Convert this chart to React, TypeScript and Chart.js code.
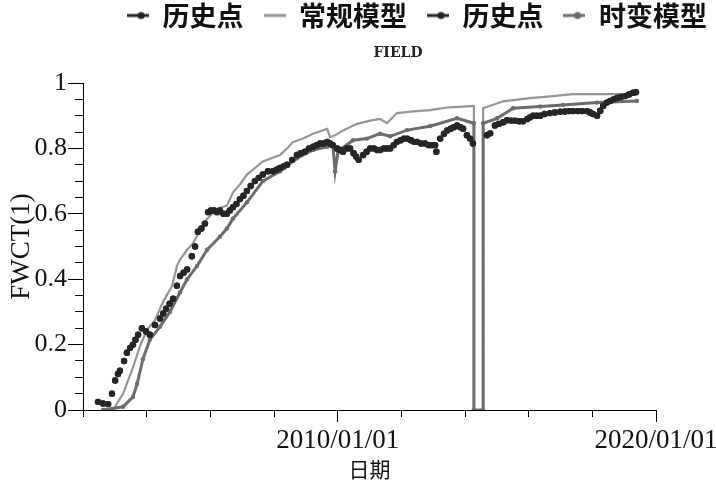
import React, { useEffect, useRef } from 'react';
import { Chart, registerables } from 'chart.js';

Chart.register(...registerables);

// ---------- data (dates as decimal years) ----------
const seriesNames = ['历史点', '常规模型', '历史点', '时变模型'];
const chartTitle = 'FIELD';
const xAxisTitle = '日期';
const yAxisTitle = 'FWCT(1)';
const xMajorLabels: Record<number, string> = { 2010: '2010/01/01', 2020: '2020/01/01' };
const yLabelValues = [0, 0.2, 0.4, 0.6, 0.8, 1];

const histYears = [
  2002.47, 2002.63, 2002.79, 2002.91, 2003.01, 2003.10, 2003.16, 2003.29, 2003.38, 2003.48,
  2003.57, 2003.65, 2003.73, 2003.85, 2003.98, 2004.10, 2004.26, 2004.42, 2004.52, 2004.61,
  2004.72, 2004.83, 2004.95, 2005.05, 2005.16, 2005.27, 2005.42, 2005.52, 2005.61, 2005.72,
  2005.83, 2005.93, 2006.02, 2006.12, 2006.21, 2006.30, 2006.41, 2006.52, 2006.61, 2006.71,
  2006.82, 2006.93, 2007.04, 2007.15, 2007.27, 2007.40, 2007.52, 2007.65, 2007.81, 2007.97,
  2008.08, 2008.19, 2008.30, 2008.41, 2008.57, 2008.72, 2008.84, 2008.97, 2009.10, 2009.23,
  2009.34, 2009.45, 2009.56, 2009.67, 2009.76, 2009.85, 2009.98, 2010.08, 2010.17, 2010.28,
  2010.39, 2010.50, 2010.58, 2010.66, 2010.80, 2010.91, 2011.02, 2011.14, 2011.24, 2011.33,
  2011.45, 2011.55, 2011.65, 2011.76, 2011.86, 2011.98, 2012.08, 2012.18, 2012.30, 2012.40,
  2012.49, 2012.62, 2012.74, 2012.86, 2012.96, 2013.06, 2013.10, 2013.22, 2013.34, 2013.44,
  2013.55, 2013.65, 2013.75, 2013.85, 2013.94, 2014.06, 2014.16, 2014.25, 2014.69, 2014.79,
  2014.94, 2015.06, 2015.20, 2015.32, 2015.45, 2015.57, 2015.70, 2015.82, 2015.96, 2016.04,
  2016.14, 2016.25, 2016.36, 2016.50, 2016.67, 2016.82, 2016.99, 2017.14, 2017.27, 2017.39,
  2017.54, 2017.68, 2017.83, 2017.93, 2018.02, 2018.15, 2018.25, 2018.34, 2018.45, 2018.56,
  2018.67, 2018.78, 2018.90, 2019.03, 2019.15, 2019.28, 2019.37,
];
const histValues = [
  0.025, 0.02, 0.018, 0.05, 0.09, 0.11, 0.12, 0.15, 0.175, 0.19,
  0.20, 0.215, 0.23, 0.25, 0.24, 0.23, 0.26, 0.28, 0.295, 0.31,
  0.325, 0.34, 0.38, 0.41, 0.42, 0.43, 0.47, 0.50, 0.545, 0.555,
  0.57, 0.605, 0.61, 0.61, 0.605, 0.61, 0.60, 0.60, 0.61, 0.62,
  0.63, 0.645, 0.655, 0.67, 0.685, 0.70, 0.71, 0.72, 0.73, 0.73,
  0.735, 0.74, 0.745, 0.75, 0.765, 0.78, 0.785, 0.79, 0.80, 0.805,
  0.81, 0.815, 0.815, 0.82, 0.815, 0.81, 0.80, 0.795, 0.79, 0.80,
  0.80, 0.785, 0.775, 0.765, 0.78, 0.79, 0.80, 0.80, 0.795, 0.795,
  0.80, 0.80, 0.80, 0.81, 0.82, 0.825, 0.83, 0.83, 0.825, 0.82,
  0.82, 0.815, 0.815, 0.81, 0.81, 0.81, 0.79, 0.83, 0.845, 0.855,
  0.86, 0.865, 0.87, 0.865, 0.86, 0.84, 0.83, 0.815, 0.84, 0.846,
  0.87, 0.875, 0.88, 0.886, 0.885, 0.885, 0.883, 0.883, 0.89, 0.895,
  0.90, 0.90, 0.90, 0.905, 0.908, 0.91, 0.912, 0.913, 0.914, 0.914,
  0.914, 0.914, 0.914, 0.91, 0.905, 0.90, 0.915, 0.93, 0.94, 0.945,
  0.95, 0.954, 0.957, 0.96, 0.965, 0.97, 0.972,
];

const convYears = [
  2002.94, 2003.26, 2003.57, 2003.79, 2004.01, 2004.26, 2004.51, 2004.80, 2004.95, 2005.05,
  2005.27, 2005.46, 2005.68, 2005.90, 2006.21, 2006.52, 2006.71, 2006.93, 2007.15, 2007.40,
  2007.65, 2008.19, 2008.41, 2008.60, 2008.91, 2009.23, 2009.67, 2009.76, 2009.92, 2010.17,
  2010.61, 2011.02, 2011.33, 2011.55, 2011.86, 2012.37, 2012.90, 2013.44, 2013.94, 2014.28,
  2014.28, 2014.57, 2014.57, 2015.20, 2016.04, 2016.77, 2017.39, 2018.46, 2019.40,
];
const convValues = [
  0, 0.05, 0.13, 0.195, 0.245, 0.275, 0.33, 0.38, 0.44, 0.46,
  0.49, 0.51, 0.55, 0.585, 0.615, 0.625, 0.665, 0.69, 0.72, 0.74,
  0.76, 0.78, 0.80, 0.82, 0.83, 0.845, 0.86, 0.835, 0.84, 0.855,
  0.875, 0.885, 0.89, 0.877, 0.908, 0.913, 0.917, 0.925, 0.928, 0.93,
  0, 0, 0.923, 0.944, 0.954, 0.96, 0.966, 0.966, 0.966,
];

const tvYears = [
  2002.63, 2003.26, 2003.57, 2003.70, 2003.88, 2004.10, 2004.42, 2004.73, 2005.05, 2005.27,
  2005.58, 2005.90, 2006.30, 2006.52, 2006.71, 2007.15, 2007.65, 2008.19, 2008.72, 2009.23,
  2009.67, 2009.85, 2009.92, 2010.01, 2010.48, 2010.92, 2011.33, 2011.65, 2012.18, 2012.90,
  2013.75, 2014.28, 2014.28, 2014.57, 2014.57, 2015.01, 2015.51, 2016.36, 2017.08, 2018.15,
  2019.40,
];
const tvValues = [
  0, 0.01, 0.04, 0.08, 0.155, 0.215, 0.255, 0.30, 0.36, 0.40,
  0.44, 0.49, 0.53, 0.555, 0.585, 0.635, 0.70, 0.73, 0.77, 0.795,
  0.805, 0.81, 0.73, 0.79, 0.825, 0.83, 0.845, 0.837, 0.856, 0.868,
  0.892, 0.877, 0, 0, 0.877, 0.892, 0.923, 0.928, 0.933, 0.94,
  0.945,
];

const colors = { hist: '#262626', conv: '#959595', tv: '#6c6c6c' };

function toPoints(xs: number[], ys: number[]) {
  return xs.map((x, i) => ({ x, y: ys[i] }));
}

function makeMarker(color: string, dot: boolean, lineWidth: number) {
  const c = document.createElement('canvas');
  c.width = 22;
  c.height = 10;
  const g = c.getContext('2d')!;
  g.strokeStyle = color;
  g.lineWidth = lineWidth;
  g.beginPath();
  g.moveTo(0, 5);
  g.lineTo(22, 5);
  g.stroke();
  if (dot) {
    g.fillStyle = color;
    g.beginPath();
    g.arc(14, 5, 3.6, 0, Math.PI * 2);
    g.fill();
  }
  return c;
}

// where the legend and title boxes are placed (top edge, horizontal shift)
const LEGEND_TOP = -18;
const LEGEND_DX = 89;
const TITLE_TOP = 41;
const TITLE_DX = 70;

const placeBoxes = {
  id: 'placeBoxes',
  afterLayout(chart: any) {
    const lg = chart.legend;
    if (lg) {
      const dy = LEGEND_TOP - lg.top;
      lg.left += LEGEND_DX; lg.right += LEGEND_DX;
      lg.top += dy; lg.bottom += dy;
    }
    const tt = chart.titleBlock;
    if (tt) {
      const dy = TITLE_TOP - tt.top;
      tt.left += TITLE_DX; tt.right += TITLE_DX;
      tt.top += dy; tt.bottom += dy;
    }
  },
};

function isYMajor(v: number) {
  return yLabelValues.some((m) => Math.abs(m - v) < 1e-6);
}

export default function App() {
  const ref = useRef<HTMLCanvasElement | null>(null);

  useEffect(() => {
    document.body.style.margin = '0';
    const canvas = ref.current!;
    const markers = [
      makeMarker(colors.hist, true, 3),
      makeMarker(colors.conv, false, 3),
      makeMarker(colors.hist, true, 3),
      makeMarker(colors.tv, true, 3),
    ];
    const serif = '"Liberation Serif", "Times New Roman", serif';
    const chart = new Chart(canvas, {
      type: 'scatter',
      data: {
        datasets: [
          {
            label: seriesNames[0],
            data: toPoints(histYears, histValues),
            showLine: false,
            pointRadius: 3.2,
            pointBorderWidth: 0,
            pointBackgroundColor: colors.hist,
            backgroundColor: colors.hist,
            borderColor: colors.hist,
            order: 0,
          },
          {
            label: seriesNames[1],
            data: toPoints(convYears, convValues),
            showLine: true,
            borderColor: colors.conv,
            borderWidth: 2.2,
            pointRadius: 0,
            tension: 0,
            order: 3,
          },
          {
            label: seriesNames[2],
            data: toPoints(histYears, histValues),
            showLine: false,
            pointRadius: 3.2,
            pointBorderWidth: 0,
            pointBackgroundColor: colors.hist,
            backgroundColor: colors.hist,
            borderColor: colors.hist,
            order: 1,
          },
          {
            label: seriesNames[3],
            data: toPoints(tvYears, tvValues),
            showLine: true,
            borderColor: colors.tv,
            borderWidth: 3,
            pointRadius: 2.2,
            pointBorderWidth: 0,
            pointBackgroundColor: colors.tv,
            tension: 0,
            order: 2,
          },
        ],
      },
      options: {
        animation: false,
        responsive: false,
        devicePixelRatio: 1,
        events: [],
        layout: { padding: { left: 0, right: 60, top: 0, bottom: 0 } },
        plugins: {
          tooltip: { enabled: false },
          legend: {
            position: 'top',
            labels: {
              usePointStyle: true,
              pointStyleWidth: 22,
              padding: 20,
              color: '#111',
              font: { family: '"Noto Sans CJK SC"', size: 27, weight: 'bold' },
              generateLabels: () =>
                seriesNames.map((name, i) => ({
                  text: name,
                  pointStyle: markers[i] as any,
                  fillStyle: 'rgba(0,0,0,0)',
                  strokeStyle: 'rgba(0,0,0,0)',
                  lineWidth: 0,
                  hidden: false,
                  datasetIndex: i,
                  fontColor: '#111',
                })),
            },
          },
          title: {
            display: true,
            text: chartTitle,
            color: '#222',
            font: { family: '"DejaVu Serif", serif', size: 14, weight: 'bold' },
            padding: { top: 4, bottom: 5.2 },
          },
        },
        scales: {
          x: {
            type: 'linear',
            min: 2002,
            max: 2020,
            afterFit: (s: any) => {
              s.height = 73;
              s.paddingLeft = 0;
              s.paddingRight = 0;
            },
            border: { display: true, color: '#000', width: 1 },
            grid: {
              drawOnChartArea: false,
              drawTicks: true,
              tickLength: 12,
              tickColor: '#000',
              tickWidth: 1,
              tickBorderDash: (ctx: any) =>
                ctx.tick && xMajorLabels[Math.round(ctx.tick.value)] ? [] : [6, 100],
            },
            ticks: {
              stepSize: 2,
              autoSkip: false,
              maxRotation: 0,
              padding: 3,
              color: '#111',
              font: { family: serif, size: 27 },
              callback: (v: any) => xMajorLabels[Math.round(Number(v))] || '',
            },
            title: {
              display: true,
              text: xAxisTitle,
              color: '#111',
              font: { family: '"Noto Sans CJK SC"', size: 21, weight: 'normal' },
              padding: { top: 0, bottom: 1 },
            },
          },
          y: {
            type: 'linear',
            min: 0,
            max: 1,
            afterFit: (s: any) => {
              s.width = 83;
            },
            border: { display: true, color: '#000', width: 1 },
            grid: {
              drawOnChartArea: false,
              drawTicks: true,
              tickLength: 15,
              tickColor: '#000',
              tickWidth: 1,
              tickBorderDash: (ctx: any) =>
                ctx.tick && isYMajor(ctx.tick.value) ? [] : [0, 7, 8, 100],
            },
            ticks: {
              stepSize: 0.05,
              autoSkip: false,
              padding: 1,
              color: '#111',
              font: { family: serif, size: 26 },
              callback: (v: any) => {
                const n = Number(v);
                if (!isYMajor(n)) return '';
                const r = Math.round(n * 10) / 10;
                return r === 0 ? '0' : r === 1 ? '1' : r.toFixed(1);
              },
            },
            title: {
              display: true,
              text: yAxisTitle,
              color: '#111',
              font: { family: serif, size: 27 },
              padding: { top: 6, bottom: 0 },
            },
          },
        },
      },
      plugins: [placeBoxes],
    } as any);
    return () => chart.destroy();
  }, []);

  return (
    <div style={{ width: 716, height: 483, background: '#fff' }}>
      <canvas ref={ref} width={716} height={483} style={{ display: 'block' }} />
    </div>
  );
}
